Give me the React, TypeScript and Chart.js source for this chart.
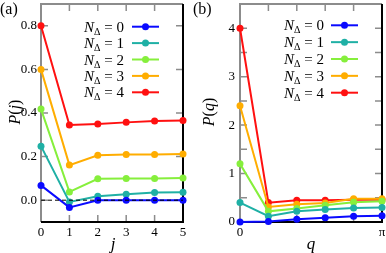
import React, { useEffect, useRef } from "react";
import { Chart, registerables } from "chart.js";
Chart.register(...registerables);

// ---------- data ----------
const jValues = [0, 1, 2, 3, 4, 5];
const qIndex = [0, 1, 2, 3, 4, 5]; // q = index * pi / 5
const nLabels = ["0", "1", "2", "3", "4"];
const seriesColors = ["#0a0aff", "#1fb0a5", "#86ef3c", "#ffad00", "#ff1010"];

const pj0 = [0.068, -0.033, 0.0, 0.0, 0.0, 0.0];
const pj1 = [0.248, -0.008, 0.018, 0.027, 0.035, 0.036];
const pj2 = [0.418, 0.038, 0.098, 0.1, 0.1, 0.102];
const pj3 = [0.6, 0.161, 0.206, 0.21, 0.21, 0.212];
const pj4 = [0.8, 0.345, 0.35, 0.357, 0.363, 0.366];

const pq0 = [0.0, 0.01, 0.055, 0.09, 0.12, 0.13];
const pq1 = [0.4, 0.12, 0.22, 0.26, 0.29, 0.3];
const pq2 = [1.2, 0.22, 0.28, 0.345, 0.41, 0.43];
const pq3 = [2.4, 0.31, 0.366, 0.39, 0.48, 0.48];
const pq4 = [4.0, 0.4, 0.447, 0.447, 0.46, 0.46];

const yTicksA = [0, 0.2, 0.4, 0.6, 0.8];
const yTicksB = [0.5, 1, 1.5, 2, 2.5, 3, 3.5, 4];
const xTicksB = [0, 1, 2, 3, 4, 5];
const qTickLabels = ["0", "", "", "", "", "π"];

const FONT = "Liberation Serif";
Chart.defaults.font.family = FONT;

type Piece = { t: string; italic?: boolean; size: number; dy?: number };

function drawPieces(ctx: CanvasRenderingContext2D, pieces: Piece[], x: number, y: number, align: "left" | "right" | "center") {
  let total = 0;
  const widths = pieces.map((p) => {
    ctx.font = `${p.italic ? "italic " : ""}${p.size}px "${FONT}"`;
    const w = ctx.measureText(p.t).width;
    total += w;
    return w;
  });
  let cx = align === "left" ? x : align === "right" ? x - total : x - total / 2;
  ctx.textAlign = "left";
  ctx.textBaseline = "alphabetic";
  pieces.forEach((p, i) => {
    ctx.font = `${p.italic ? "italic " : ""}${p.size}px "${FONT}"`;
    ctx.fillText(p.t, cx, y + (p.dy || 0));
    cx += widths[i];
  });
}

type Deco = {
  panel: string;
  panelX: number;
  ytitle: Piece[];
  ytitleX: number;
  ytitleY: number;
  xtitle: string;
  xtitleX: number;
  xtitleY: number;
  legendRight: number;
  legendLine0: number;
  legendLine1: number;
  legendY0: number;
  legendDy: number;
  dashedZero: boolean;
};

function makePlugin(d: Deco) {
  return {
    id: "deco" + d.panel,
    beforeDatasetsDraw(chart: any) {
      const ctx: CanvasRenderingContext2D = chart.ctx;
      const { left, right, top, bottom } = chart.chartArea;
      const xs = chart.scales.x;
      const ys = chart.scales.y;
      ctx.save();
      // inward ticks
      ctx.strokeStyle = "#8c8c8c";
      ctx.lineWidth = 1.5;
      const tl = 7;
      xs.ticks.forEach((t: any) => {
        const px = xs.getPixelForValue(t.value);
        if (px <= left + 1 || px >= right - 1) return;
        ctx.beginPath();
        ctx.moveTo(px, top);
        ctx.lineTo(px, top + tl);
        ctx.moveTo(px, bottom);
        ctx.lineTo(px, bottom - tl);
        ctx.stroke();
      });
      ys.ticks.forEach((t: any) => {
        const py = ys.getPixelForValue(t.value);
        if (py <= top + 1 || py >= bottom - 1) return;
        ctx.beginPath();
        ctx.moveTo(left, py);
        ctx.lineTo(left + tl, py);
        ctx.moveTo(right, py);
        ctx.lineTo(right - tl, py);
        ctx.stroke();
      });
      // frame: left/top gray, right/bottom black
      ctx.lineWidth = 2;
      ctx.strokeStyle = "#8c8c8c";
      ctx.beginPath();
      ctx.moveTo(left, bottom);
      ctx.lineTo(left, top);
      ctx.lineTo(right, top);
      ctx.stroke();
      ctx.strokeStyle = "#000";
      ctx.beginPath();
      ctx.moveTo(right, top);
      ctx.lineTo(right, bottom);
      ctx.lineTo(left, bottom);
      ctx.stroke();

      // titles
      ctx.fillStyle = "#000";
      drawPieces(ctx, [{ t: d.panel, size: 16 }], d.panelX, 14, "left");
      drawPieces(ctx, [{ t: d.xtitle, italic: true, size: 17 }], d.xtitleX, d.xtitleY, "center");
      ctx.save();
      ctx.translate(d.ytitleX, d.ytitleY);
      ctx.rotate(-Math.PI / 2);
      drawPieces(ctx, d.ytitle, 0, 6, "center");
      ctx.restore();
      ctx.restore();
    },
    afterDatasetsDraw(chart: any) {
      const ctx: CanvasRenderingContext2D = chart.ctx;
      const { left, right } = chart.chartArea;
      ctx.save();
      if (d.dashedZero) {
        const py = chart.scales.y.getPixelForValue(0);
        ctx.strokeStyle = "#000";
        ctx.lineWidth = 1;
        ctx.setLineDash([4, 3]);
        ctx.beginPath();
        ctx.moveTo(left, py);
        ctx.lineTo(right, py);
        ctx.stroke();
        ctx.setLineDash([]);
      }
      // legend
      nLabels.forEach((lab, i) => {
        const y = d.legendY0 + i * d.legendDy;
        ctx.fillStyle = "#000";
        drawPieces(
          ctx,
          [
            { t: "N", italic: true, size: 15 },
            { t: "Δ", size: 10, dy: 3 },
            { t: " = " + lab, size: 15 },
          ],
          d.legendRight,
          y + 5,
          "right"
        );
        ctx.strokeStyle = seriesColors[i];
        ctx.lineWidth = 2;
        ctx.beginPath();
        ctx.moveTo(d.legendLine0, y);
        ctx.lineTo(d.legendLine1, y);
        ctx.stroke();
        ctx.fillStyle = seriesColors[i];
        ctx.beginPath();
        ctx.arc((d.legendLine0 + d.legendLine1) / 2, y, 3.5, 0, Math.PI * 2);
        ctx.fill();
      });
      ctx.restore();
    },
  };
}

function makeDatasets(xs: number[], series: number[][]) {
  return series.map((s, i) => ({
    label: "N=" + nLabels[i],
    data: s.map((v, k) => ({ x: xs[k], y: v })),
    borderColor: seriesColors[i],
    backgroundColor: seriesColors[i],
    borderWidth: 2,
    pointRadius: 3.5,
    pointBorderWidth: 0,
    clip: false as any,
  }));
}

const tickFont = { family: FONT, size: 13 };
const noGrid = { display: false, drawTicks: false, tickLength: 0 };

function ChartA() {
  const ref = useRef<HTMLCanvasElement>(null);
  useEffect(() => {
    const chart = new Chart(ref.current!, {
      type: "line",
      data: { datasets: makeDatasets(jValues, [pj0, pj1, pj2, pj3, pj4]) as any },
      options: {
        animation: false,
        responsive: false,
        layout: { padding: { top: 1, right: 10, left: 0, bottom: 0 } },
        plugins: { legend: { display: false }, tooltip: { enabled: false } },
        scales: {
          x: {
            type: "linear",
            min: 0,
            max: 5,
            ticks: { stepSize: 1, color: "#000", font: tickFont, padding: 3, maxRotation: 0 },
            grid: noGrid,
            border: { display: false },
            afterFit: (s: any) => {
              s.height = 31;
              s.paddingLeft = 0;
              s.paddingRight = 0;
            },
          },
          y: {
            type: "linear",
            min: -0.1,
            max: 0.9,
            afterBuildTicks: (s: any) => {
              s.ticks = yTicksA.map((v) => ({ value: v }));
            },
            ticks: {
              color: "#000",
              font: tickFont,
              padding: 4,
              callback: (v: any) => Number(v).toFixed(1),
            },
            grid: noGrid,
            border: { display: false },
            afterFit: (s: any) => {
              s.width = 41;
              s.paddingTop = 0;
              s.paddingBottom = 0;
            },
          },
        },
      },
      plugins: [
        makePlugin({
          panel: "(a)",
          panelX: 0,
          ytitle: [
            { t: "P", italic: true, size: 16 },
            { t: "(", size: 16 },
            { t: "j", italic: true, size: 16 },
            { t: ")", size: 16 },
          ],
          ytitleX: 14,
          ytitleY: 112,
          xtitle: "j",
          xtitleX: 113,
          xtitleY: 249,
          legendRight: 124,
          legendLine0: 132,
          legendLine1: 159,
          legendY0: 26.7,
          legendDy: 16.4,
          dashedZero: true,
        }) as any,
      ],
    });
    return () => chart.destroy();
  }, []);
  return <canvas ref={ref} width={193} height={253} style={{ position: "absolute", left: 0, top: 0 }} />;
}

function ChartB() {
  const ref = useRef<HTMLCanvasElement>(null);
  useEffect(() => {
    const chart = new Chart(ref.current!, {
      type: "line",
      data: { datasets: makeDatasets(qIndex, [pq0, pq1, pq2, pq3, pq4]) as any },
      options: {
        animation: false,
        responsive: false,
        layout: { padding: { top: 1, right: 3, left: 0, bottom: 0 } },
        plugins: { legend: { display: false }, tooltip: { enabled: false } },
        scales: {
          x: {
            type: "linear",
            min: 0,
            max: 5,
            afterBuildTicks: (s: any) => {
              s.ticks = xTicksB.map((v) => ({ value: v }));
            },
            ticks: {
              color: "#000",
              font: tickFont,
              padding: 3,
              maxRotation: 0,
              autoSkip: false,
              callback: (v: any) => qTickLabels[Math.round(Number(v))] ?? "",
            },
            grid: noGrid,
            border: { display: false },
            afterFit: (s: any) => {
              s.height = 31;
              s.paddingLeft = 0;
              s.paddingRight = 0;
            },
          },
          y: {
            type: "linear",
            min: 0,
            max: 4.5,
            afterBuildTicks: (s: any) => {
              s.ticks = yTicksB.map((v) => ({ value: v })).concat([{ value: 0 }]);
            },
            ticks: {
              autoSkip: false,
              color: "#000",
              font: tickFont,
              padding: 5,
              callback: (v: any) => (Number.isInteger(Number(v)) ? String(v) : ""),
            },
            grid: noGrid,
            border: { display: false },
            afterFit: (s: any) => {
              s.width = 47;
              s.paddingTop = 0;
              s.paddingBottom = 0;
            },
          },
        },
      },
      plugins: [
        makePlugin({
          panel: "(b)",
          panelX: 0,
          ytitle: [
            { t: "P", italic: true, size: 16 },
            { t: "(", size: 16 },
            { t: "q", italic: true, size: 16 },
            { t: ")", size: 16 },
          ],
          ytitleX: 15,
          ytitleY: 112,
          xtitle: "q",
          xtitleX: 118,
          xtitleY: 249,
          legendRight: 131,
          legendLine0: 138,
          legendLine1: 165,
          legendY0: 25.3,
          legendDy: 16.85,
          dashedZero: false,
        }) as any,
      ],
    });
    return () => chart.destroy();
  }, []);
  return <canvas ref={ref} width={193} height={253} style={{ position: "absolute", left: 193, top: 0 }} />;
}

export default function App() {
  return (
    <div style={{ position: "fixed", left: 0, top: 0, width: 386, height: 253, background: "#fff", overflow: "hidden" }}>
      <ChartA />
      <ChartB />
    </div>
  );
}
